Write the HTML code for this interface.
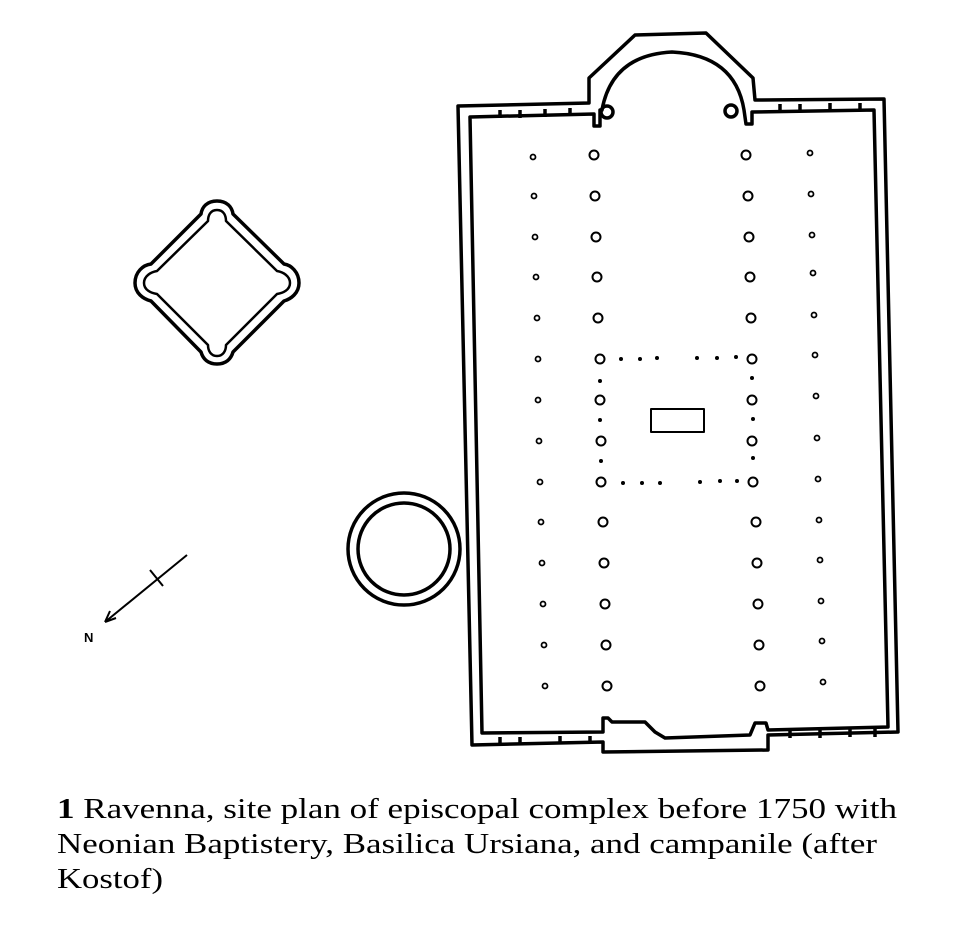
<!DOCTYPE html>
<html><head><meta charset="utf-8"><style>html,body{margin:0;padding:0;background:#fff}svg{display:block}</style></head>
<body>
<svg width="954" height="926" viewBox="0 0 954 926" xmlns="http://www.w3.org/2000/svg">
<g fill="none" stroke="#000" stroke-width="3.5" stroke-linejoin="round">
<path d="M458,106 L589,103 L589,78 L635,35 L706,33 L753,78 L755,100 L884,99 L898,732 L768,735 L768,750 L603,752 L603,742 L472,745 Z"/>
<path d="M470,117 L594,114 L594,126 L600,126 L600,110 L602,110 Q612,55 672,52 Q735,55 744,110 L746,124 L752,124 L752,112 L874,110 L888,727 L768,730 L766,723 L755,723 L750,735 L665,738 L655,732 L645,722 L612,722 L608,718 L603,718 L603,732 L482,733 Z"/>
<circle cx="607" cy="112" r="6"/><circle cx="731" cy="111" r="6"/>
<path d="M500,110 v8 M520,110 v8 M545,109 v8 M570,108 v8 M780,104 v8 M800,104 v8 M830,103 v8 M860,103 v8 M500,737 v8 M520,737 v8 M560,736 v8 M590,736 v8 M790,730 v8 M820,730 v8 M850,729 v8 M875,729 v8"/>
<rect x="651" y="409" width="53" height="23" stroke-width="2"/>
<circle cx="404" cy="549" r="56"/><circle cx="404" cy="549" r="46"/>
<path d="M217,201 C227,201 232,207 233,214 L284,264 C291,265 299,272 299,283 C299,293 291,299 284,301 L233,352 C231,359 226,364 217,364 C208,364 203,359 201,352 L151,301 C143,299 135,293 135,283 C135,272 143,265 151,264 L201,214 C202,207 207,201 217,201 Z"/>
<path d="M217,210 C224,210 226,216 226,221 L277,271 C283,272 290,276 290,283 C290,290 283,293 277,294 L226,345 C226,351 223,356 217,356 C211,356 208,351 208,345 L157,294 C151,293 144,290 144,283 C144,276 151,272 157,271 L208,221 C208,216 210,210 217,210 Z" stroke-width="2.5"/>
<path d="M187,555 L105,622 M150,570 L163,586 M105,622 L110,611 M105,622 L116,618" stroke-width="2"/>
</g>
<text x="84" y="642" font-family="Liberation Sans,sans-serif" font-size="13" font-weight="bold">N</text>
<g fill="none" stroke="#000" stroke-width="2">
<circle cx="594" cy="155" r="4.5"/><circle cx="595" cy="196" r="4.5"/><circle cx="596" cy="237" r="4.5"/><circle cx="597" cy="277" r="4.5"/><circle cx="598" cy="318" r="4.5"/><circle cx="600" cy="359" r="4.5"/><circle cx="600" cy="400" r="4.5"/><circle cx="601" cy="441" r="4.5"/><circle cx="601" cy="482" r="4.5"/><circle cx="603" cy="522" r="4.5"/><circle cx="604" cy="563" r="4.5"/><circle cx="605" cy="604" r="4.5"/><circle cx="606" cy="645" r="4.5"/><circle cx="607" cy="686" r="4.5"/>
<circle cx="746" cy="155" r="4.5"/><circle cx="748" cy="196" r="4.5"/><circle cx="749" cy="237" r="4.5"/><circle cx="750" cy="277" r="4.5"/><circle cx="751" cy="318" r="4.5"/><circle cx="752" cy="359" r="4.5"/><circle cx="752" cy="400" r="4.5"/><circle cx="752" cy="441" r="4.5"/><circle cx="753" cy="482" r="4.5"/><circle cx="756" cy="522" r="4.5"/><circle cx="757" cy="563" r="4.5"/><circle cx="758" cy="604" r="4.5"/><circle cx="759" cy="645" r="4.5"/><circle cx="760" cy="686" r="4.5"/>
<g stroke-width="1.8">
<circle cx="533" cy="157" r="2.5"/><circle cx="534" cy="196" r="2.5"/><circle cx="535" cy="237" r="2.5"/><circle cx="536" cy="277" r="2.5"/><circle cx="537" cy="318" r="2.5"/><circle cx="538" cy="359" r="2.5"/><circle cx="538" cy="400" r="2.5"/><circle cx="539" cy="441" r="2.5"/><circle cx="540" cy="482" r="2.5"/><circle cx="541" cy="522" r="2.5"/><circle cx="542" cy="563" r="2.5"/><circle cx="543" cy="604" r="2.5"/><circle cx="544" cy="645" r="2.5"/><circle cx="545" cy="686" r="2.5"/>
<circle cx="810" cy="153" r="2.5"/><circle cx="811" cy="194" r="2.5"/><circle cx="812" cy="235" r="2.5"/><circle cx="813" cy="273" r="2.5"/><circle cx="814" cy="315" r="2.5"/><circle cx="815" cy="355" r="2.5"/><circle cx="816" cy="396" r="2.5"/><circle cx="817" cy="438" r="2.5"/><circle cx="818" cy="479" r="2.5"/><circle cx="819" cy="520" r="2.5"/><circle cx="820" cy="560" r="2.5"/><circle cx="821" cy="601" r="2.5"/><circle cx="822" cy="641" r="2.5"/><circle cx="823" cy="682" r="2.5"/>
</g></g>
<g fill="#000">
<circle cx="621" cy="359" r="2"/><circle cx="640" cy="359" r="2"/><circle cx="657" cy="358" r="2"/><circle cx="697" cy="358" r="2"/><circle cx="717" cy="358" r="2"/><circle cx="736" cy="357" r="2"/>
<circle cx="623" cy="483" r="2"/><circle cx="642" cy="483" r="2"/><circle cx="660" cy="483" r="2"/><circle cx="700" cy="482" r="2"/><circle cx="720" cy="481" r="2"/><circle cx="737" cy="481" r="2"/>
<circle cx="600" cy="381" r="2"/><circle cx="600" cy="420" r="2"/><circle cx="601" cy="461" r="2"/>
<circle cx="752" cy="378" r="2"/><circle cx="753" cy="419" r="2"/><circle cx="753" cy="458" r="2"/>
</g>
<g font-family="Liberation Serif,serif" font-size="28" fill="#000">
<text x="57" y="818" textLength="840" lengthAdjust="spacingAndGlyphs"><tspan font-weight="bold">1</tspan> Ravenna, site plan of episcopal complex before 1750 with</text>
<text x="57" y="853" textLength="820" lengthAdjust="spacingAndGlyphs">Neonian Baptistery, Basilica Ursiana, and campanile (after</text>
<text x="57" y="888" textLength="106" lengthAdjust="spacingAndGlyphs">Kostof)</text>
</g>
</svg>
</body></html>
